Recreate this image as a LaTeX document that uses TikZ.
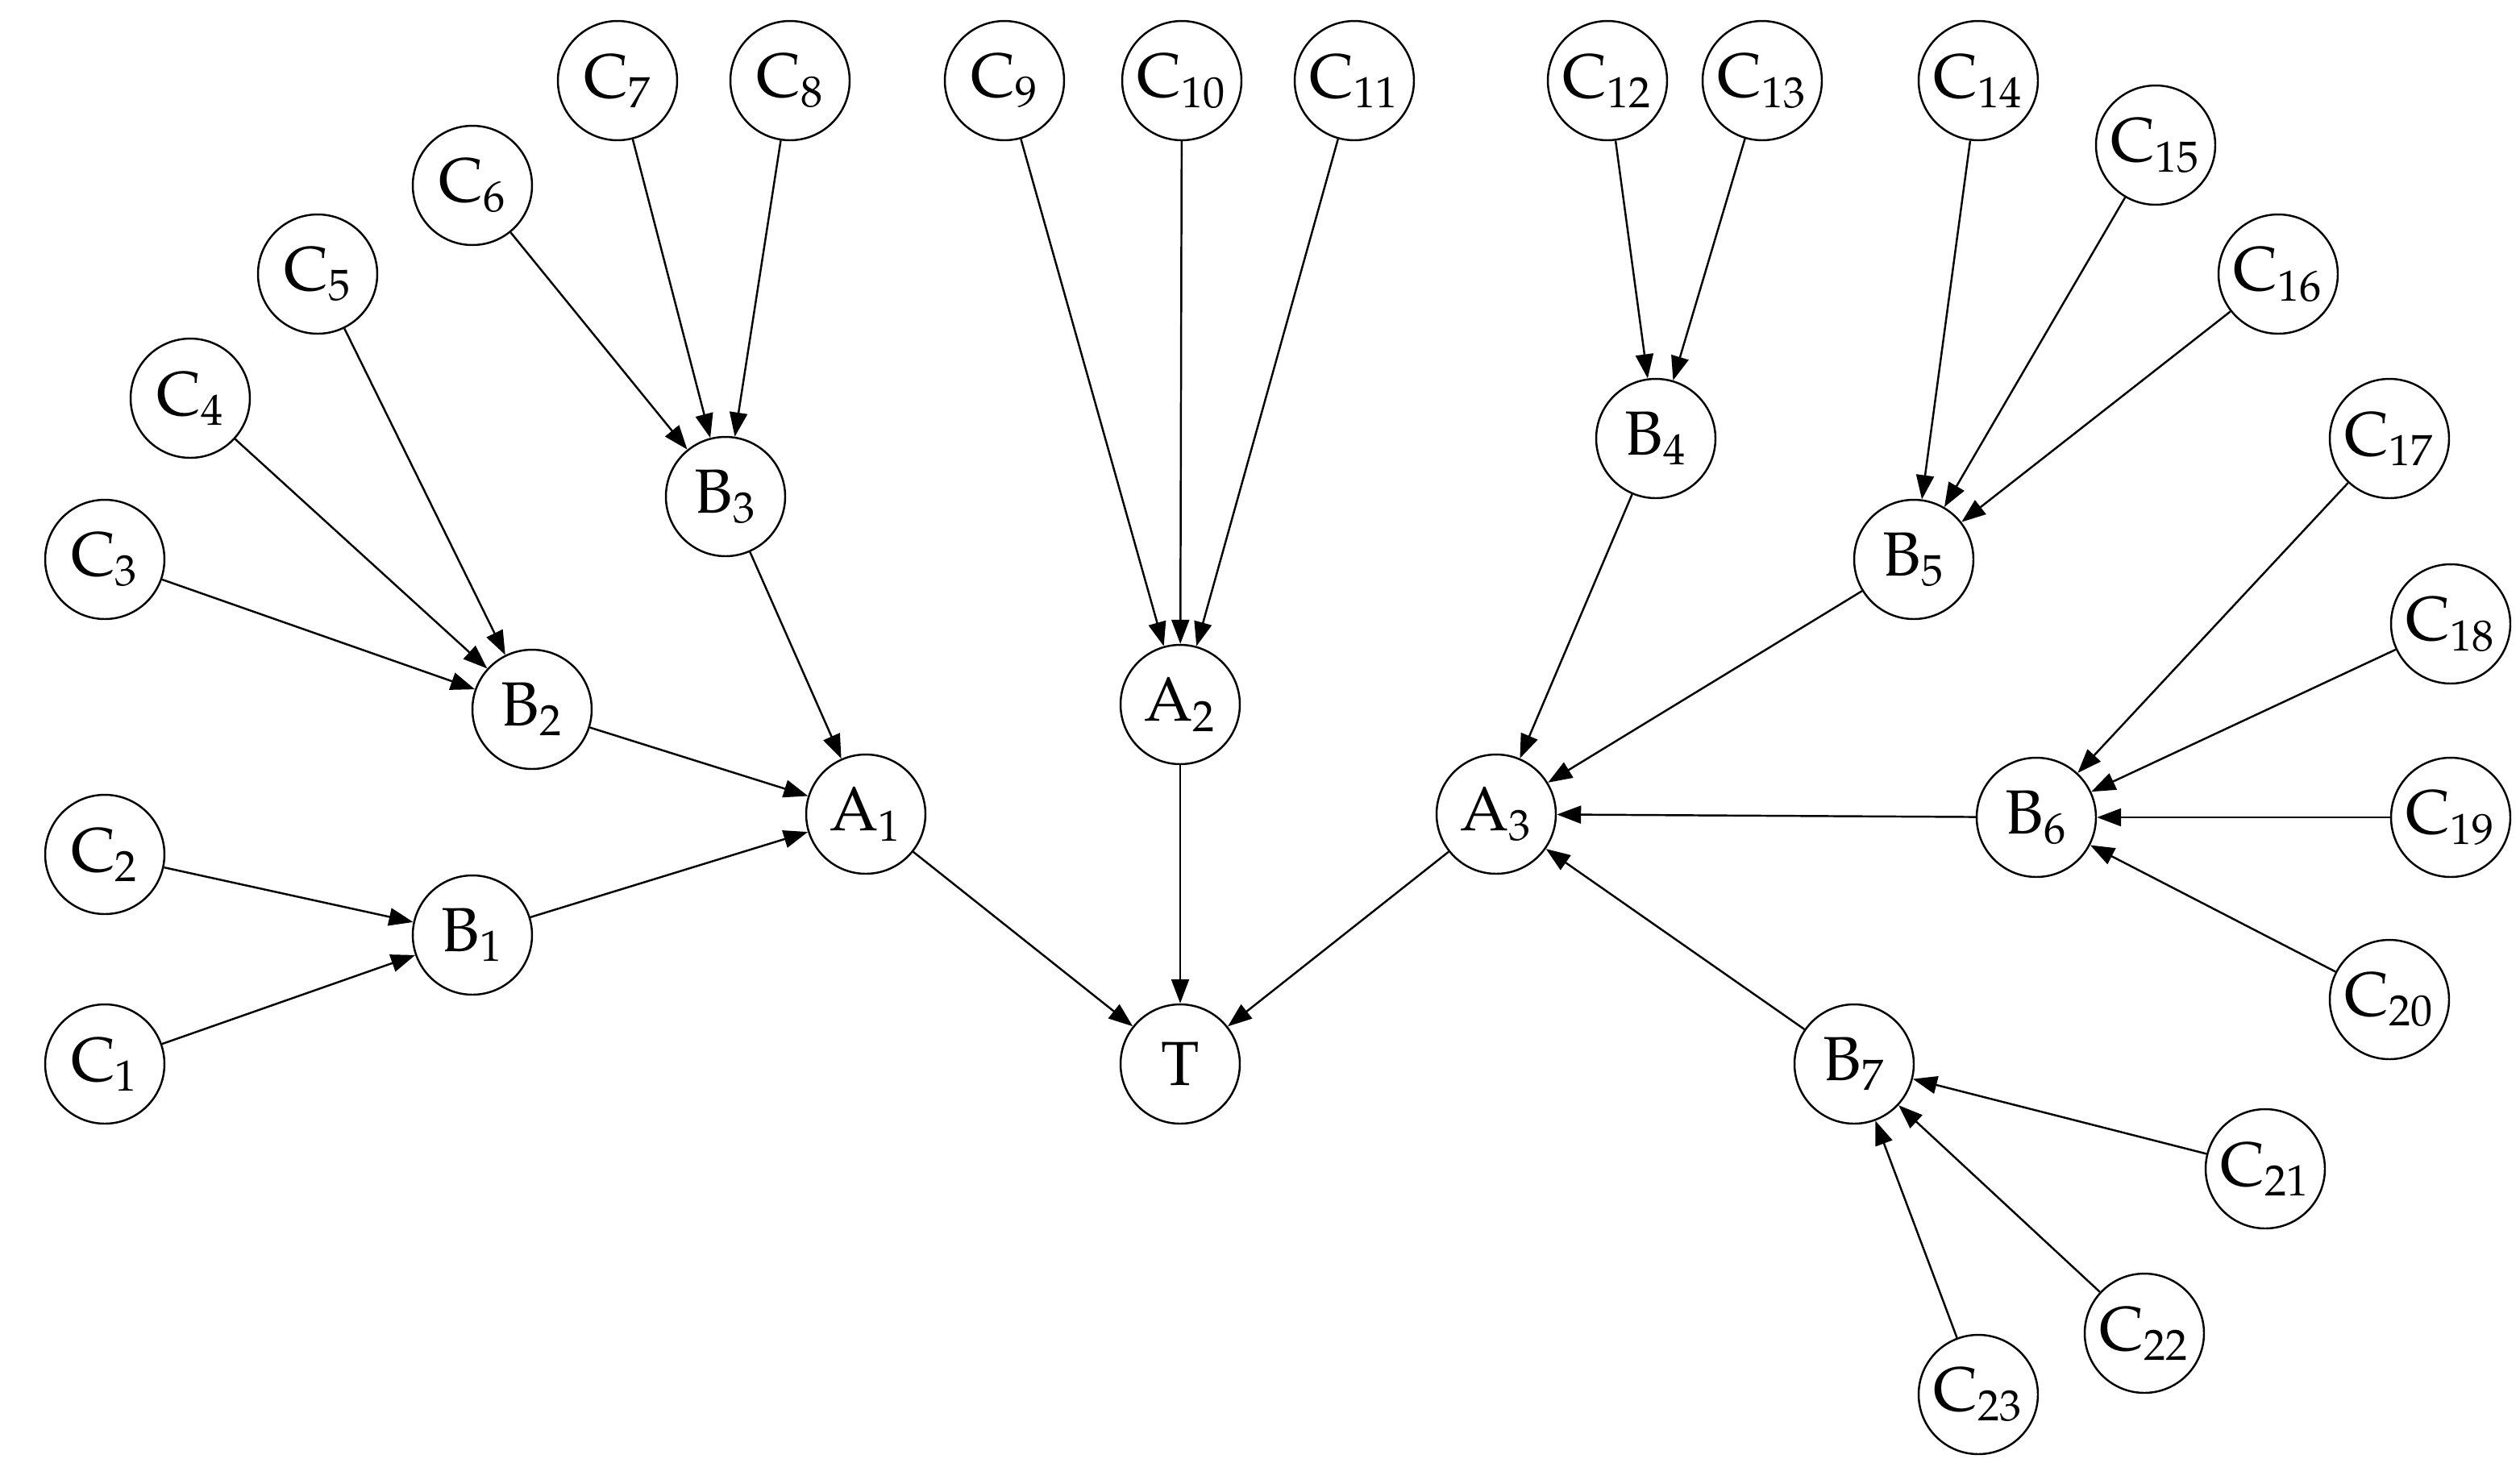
\documentclass[tikz,border=0pt]{standalone}
\usepackage{fontspec}
\setmainfont{TeX Gyre Pagella}[Scale=1]
\usetikzlibrary{arrows.meta}
\begin{document}
\begin{tikzpicture}[x=0.02cm,y=-0.02cm,
 n/.style={circle,draw,line width=0.7pt,minimum size=1.48cm,inner sep=0pt,font=\fontsize{22}{26}\selectfont},
 e/.style={line width=0.7pt,-{Triangle[length=0.3cm,width=0.22cm]}}]
\useasboundingbox (0,0) rectangle (1563,907);
\newcommand{\nd}[4]{\node[n] (#1) at (#2,#3) {#4};}
\nd{T}{732}{660}{T}
\nd{A1}{537}{505}{A\textsubscript{1}}
\nd{A2}{732}{437}{A\textsubscript{2}}
\nd{A3}{928}{505}{A\textsubscript{3}}
\nd{B1}{293}{580}{B\textsubscript{1}}
\nd{B2}{330}{440}{B\textsubscript{2}}
\nd{B3}{450}{308}{B\textsubscript{3}}
\nd{B4}{1027}{272}{B\textsubscript{4}}
\nd{B5}{1187}{347}{B\textsubscript{5}}
\nd{B6}{1263}{507}{B\textsubscript{6}}
\nd{B7}{1150}{660}{B\textsubscript{7}}
\nd{C1}{65}{660}{C\textsubscript{1}}
\nd{C2}{65}{530}{C\textsubscript{2}}
\nd{C3}{65}{347}{C\textsubscript{3}}
\nd{C4}{118}{247}{C\textsubscript{4}}
\nd{C5}{197}{170}{C\textsubscript{5}}
\nd{C6}{293}{115}{C\textsubscript{6}}
\nd{C7}{383}{50}{C\textsubscript{7}}
\nd{C8}{490}{50}{C\textsubscript{8}}
\nd{C9}{623}{50}{C\textsubscript{9}}
\nd{C10}{733}{50}{C\textsubscript{10}}
\nd{C11}{840}{50}{C\textsubscript{11}}
\nd{C12}{997}{50}{C\textsubscript{12}}
\nd{C13}{1093}{50}{C\textsubscript{13}}
\nd{C14}{1227}{50}{C\textsubscript{14}}
\nd{C15}{1337}{90}{C\textsubscript{15}}
\nd{C16}{1413}{170}{C\textsubscript{16}}
\nd{C17}{1482}{272}{C\textsubscript{17}}
\nd{C18}{1520}{387}{C\textsubscript{18}}
\nd{C19}{1520}{507}{C\textsubscript{19}}
\nd{C20}{1482}{620}{C\textsubscript{20}}
\nd{C21}{1405}{725}{C\textsubscript{21}}
\nd{C22}{1330}{827}{C\textsubscript{22}}
\nd{C23}{1227}{865}{C\textsubscript{23}}
\foreach \s/\t in {C1/B1,C2/B1,C3/B2,C4/B2,C5/B2,C6/B3,C7/B3,C8/B3,C9/A2,C10/A2,C11/A2,
 C12/B4,C13/B4,C14/B5,C15/B5,C16/B5,C17/B6,C18/B6,C19/B6,C20/B6,C21/B7,C22/B7,C23/B7,
 B1/A1,B2/A1,B3/A1,B4/A3,B5/A3,B6/A3,B7/A3,A1/T,A2/T,A3/T}
 \draw[e] (\s) -- (\t);
\end{tikzpicture}
\end{document}
